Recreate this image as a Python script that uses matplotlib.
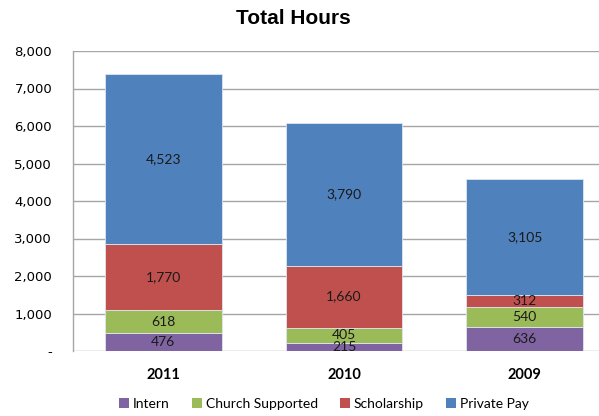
import matplotlib
matplotlib.use("Agg")
import matplotlib.pyplot as plt
import numpy as np

categories = ["2011", "2010", "2009"]
series_names = ["Intern", "Church Supported", "Scholarship", "Private Pay"]
intern = [476, 215, 636]
church = [618, 405, 540]
scholarship = [1770, 1660, 312]
private_pay = [4523, 3790, 3105]
yticks = [0, 1000, 2000, 3000, 4000, 5000, 6000, 7000, 8000]
ytick_labels = ["-", "1,000", "2,000", "3,000", "4,000", "5,000", "6,000", "7,000", "8,000"]
colors = ["#8064A2", "#9BBB59", "#C0504D", "#4F81BD"]

fig = plt.figure(figsize=(5.99, 4.16), dpi=100)
ax = fig.add_axes([73/599, 65/416, (615-73)/599, 300/416])

x = np.arange(len(categories))
bottom = np.zeros(len(categories))
handles = []
for name, vals, c in zip(series_names, [intern, church, scholarship, private_pay], colors):
    vals = np.array(vals, dtype=float)
    b = ax.bar(x, vals, 0.645, bottom=bottom, color=c, edgecolor="#dfe6f0", linewidth=0.6, label=name, zorder=3)
    handles.append(b)
    for xi, v, bt in zip(x, vals, bottom):
        ax.text(xi, bt + v/2, f"{int(v):,}", ha="center", va="center", fontsize=10,
                family="Lato", color="#1a1a1a", zorder=4)
    bottom += vals

ax.set_xlim(-0.5, 2.5)
ax.set_ylim(0, 8000)
ax.set_yticks(yticks)
ax.set_yticklabels(ytick_labels, fontsize=9.5, family="DejaVu Sans")
ax.set_xticks(x)
ax.set_xticklabels(categories, fontsize=10.5, fontweight="bold", family="Lato")
ax.tick_params(axis="y", length=0, pad=15)
ax.tick_params(axis="x", length=0, pad=12)
ax.grid(axis="y", color="#a6a6a6", linewidth=1.0, zorder=0)
for s in ["top", "right", "bottom"]:
    ax.spines[s].set_visible(False)
ax.spines["left"].set_color("#a6a6a6")
ax.spines["left"].set_linewidth(1.0)

fig.text(293/599, 1 - 18/416, "Total Hours", ha="center", va="center", fontsize=15,
         fontweight="bold", family="Liberation Sans")

leg = fig.legend(handles=handles, labels=series_names, loc="center", bbox_to_anchor=(324/599, 1 - 404/416),
                 ncol=4, frameon=False, prop={"family": "Lato", "size": 10},
                 handlelength=0.7, handleheight=0.7, handletextpad=0.3, columnspacing=1.6)
for p in leg.get_patches():
    p.set_edgecolor("none")

fig.savefig("out.png", dpi=100)
